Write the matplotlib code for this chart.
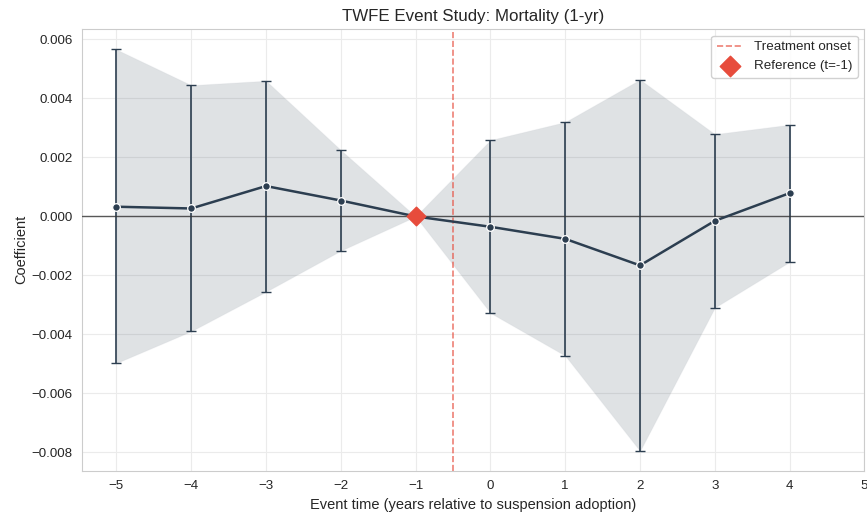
import matplotlib
matplotlib.use("Agg")
import matplotlib.pyplot as plt
import seaborn as sns
import numpy as np

sns.set_style("whitegrid")
plt.rcParams['font.family'] = ['Liberation Sans', 'DejaVu Sans']

# Event-study coefficients and 95% CI bounds
event_time = [-5, -4, -3, -2, -1, 0, 1, 2, 3, 4]
coef = [0.00033, 0.00027, 0.00103, 0.00054, 0.0, -0.00035, -0.00076, -0.00166, -0.00015, 0.00079]
ci_low = [-0.00497, -0.00389, -0.00255, -0.00116, 0.0, -0.00327, -0.00472, -0.00795, -0.00309, -0.00154]
ci_high = [0.00566, 0.00445, 0.00460, 0.00225, 0.0, 0.00259, 0.00320, 0.00464, 0.00279, 0.00311]
ref_time = -1
onset_time = -0.5

x = np.array(event_time)
y = np.array(coef)
lo = np.array(ci_low)
hi = np.array(ci_high)

fig, ax = plt.subplots(figsize=(8.67, 5.15), dpi=100)
fig.subplots_adjust(left=0.095, right=0.997, top=0.944, bottom=0.086)

ax.fill_between(x, lo, hi, color='#2c3e50', alpha=0.15, edgecolor='#bfc4c9', linewidth=0.8)
mask = x != ref_time
ax.errorbar(x[mask], y[mask], yerr=[y[mask] - lo[mask], hi[mask] - y[mask]],
            fmt='none', ecolor='#2c3e50', elinewidth=1.2, capsize=3.6, capthick=1.0)
ax.plot(x, y, color='#2c3e50', lw=1.8, marker='o', ms=5.5, mfc='#2c3e50',
        mec='white', mew=0.9, zorder=4)
ax.axhline(0, color='#333333', lw=1.0, alpha=0.8, zorder=3)
ax.axvline(onset_time, color='#e74c3c', ls='--', lw=1.2, alpha=0.7,
           label='Treatment onset')
ax.scatter([ref_time], [0.0], marker='D', s=90, color='#e74c3c', zorder=6,
           label='Reference (t=-1)')

ax.set_xlim(-5.455, 5)
ax.set_ylim(-0.00862, 0.00636)
ax.set_xticks(range(-5, 6))
ax.set_yticks(np.arange(-0.008, 0.0061, 0.002))
ax.set_yticklabels([f"{v:.3f}".replace('-', '\u2212') for v in np.arange(-0.008, 0.0061, 0.002)])
ax.tick_params(labelsize=9.6, colors='#262626')
ax.grid(color='#ebebeb', lw=0.8)
for s in ax.spines.values():
    s.set_color('#cccccc')

ax.set_xlabel('Event time (years relative to suspension adoption)', fontsize=10.5, labelpad=4)
ax.set_ylabel('Coefficient', fontsize=10.5, labelpad=2)
ax.set_title('TWFE Event Study: Mortality (1-yr)', fontsize=12.2, pad=6)
ax.legend(loc='upper right', fontsize=9.6, frameon=True, framealpha=0.9, markerscale=1.1)

fig.savefig('out.png', dpi=100)
